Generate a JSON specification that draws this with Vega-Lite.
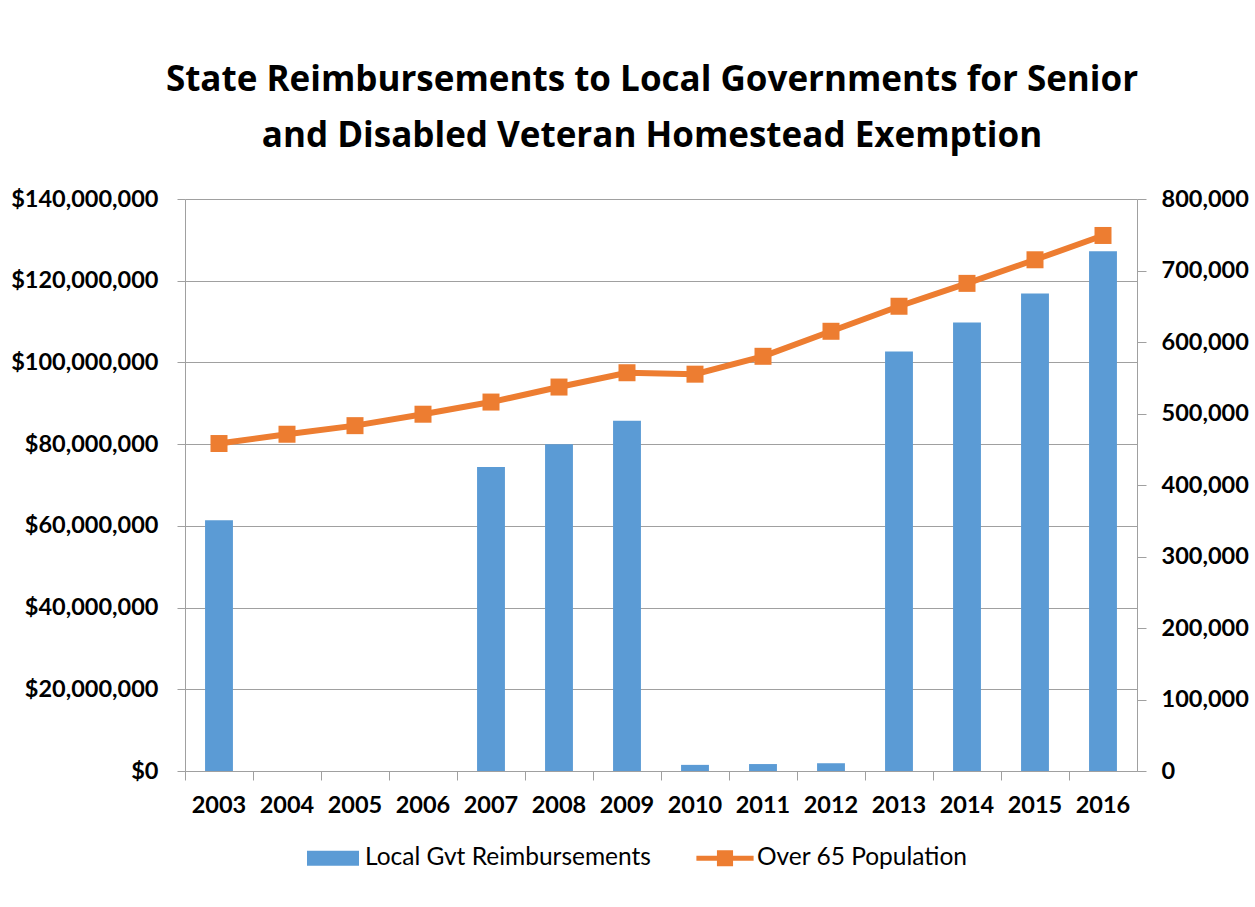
{
  "$schema": "https://vega.github.io/schema/vega-lite/v6.json",
  "width": 952,
  "height": 572,
  "autosize": {"type": "none"},
  "padding": {"left": 185, "top": 199, "right": 118, "bottom": 136},
  "background": "white",
  "config": {
    "font": "Lato",
    "view": {"stroke": null},
    "legend": {
      "orient": "none",
      "legendX": 122,
      "legendY": 633,
      "direction": "horizontal",
      "title": null,
      "symbolSize": 2704,
      "labelFontSize": 24.5,
      "labelFont": "Lato",
      "labelColor": "black",
      "labelOffset": 6,
      "labelLimit": 500,
      "columnPadding": 45
    }
  },
  "title": {
    "text": ["State Reimbursements to Local Governments for Senior", "and Disabled Veteran Homestead Exemption"],
    "fontSize": 35,
    "fontWeight": "bold",
    "font": "Open Sans",
    "color": "black",
    "anchor": "middle",
    "frame": "group",
    "offset": 5,
    "baseline": "alphabetic",
    "lineHeight": 56,
    "dx": -9
  },
  "data": {
    "values": [
      {"year": "2003", "reimb": 61400000, "pop": 458000},
      {"year": "2004", "reimb": 0, "pop": 471000},
      {"year": "2005", "reimb": 0, "pop": 483000},
      {"year": "2006", "reimb": 0, "pop": 499000},
      {"year": "2007", "reimb": 74400000, "pop": 516000},
      {"year": "2008", "reimb": 80000000, "pop": 537000},
      {"year": "2009", "reimb": 85700000, "pop": 557000},
      {"year": "2010", "reimb": 1500000, "pop": 555000},
      {"year": "2011", "reimb": 1700000, "pop": 580000},
      {"year": "2012", "reimb": 1900000, "pop": 615000},
      {"year": "2013", "reimb": 102700000, "pop": 650000},
      {"year": "2014", "reimb": 109800000, "pop": 682000},
      {"year": "2015", "reimb": 116900000, "pop": 715000},
      {"year": "2016", "reimb": 127200000, "pop": 749000}
    ]
  },
  "encoding": {
    "x": {
      "field": "year",
      "type": "ordinal",
      "scale": {"paddingInner": 0.59, "paddingOuter": 0.295},
      "axis": {
        "title": null,
        "labelAngle": 0,
        "labelFontSize": 23.5,
        "labelFontWeight": "bold",
        "labelColor": "black",
        "labelFont": "Lato",
        "domainColor": "#A0A0A0",
        "tickColor": "#A0A0A0",
        "tickSize": 9,
        "labelPadding": 13,
        "bandPosition": -0.7195,
        "grid": false
      }
    }
  },
  "layer": [
    {
      "mark": {"type": "bar", "color": "#5B9BD5"},
      "encoding": {
        "y": {
          "field": "reimb",
          "type": "quantitative",
          "scale": {"domain": [0, 140000000], "nice": false},
          "axis": {
            "orient": "left",
            "title": null,
            "values": [0, 20000000, 40000000, 60000000, 80000000, 100000000, 120000000, 140000000],
            "format": "$,.0f",
            "labelFontSize": 23.5,
            "labelFontWeight": "bold",
            "labelColor": "black",
            "labelFont": "Lato",
            "tickSize": 8,
            "tickColor": "#A0A0A0",
            "labelPadding": 19,
            "domainColor": "#A0A0A0",
            "grid": true,
            "gridColor": "#A0A0A0",
            "gridWidth": 1.2
          }
        },
        "color": {
          "datum": "Local Gvt Reimbursements",
          "scale": {"domain": ["Local Gvt Reimbursements", "Over 65 Population"], "range": ["#5B9BD5", "#ED7D31"]},
          "legend": {
            "encode": {
              "symbols": {
                "update": {
                  "shape": {"signal": "datum.value === 'Local Gvt Reimbursements' ? 'M-1,-0.29H1V0.29H-1Z' : 'M-1.1,-0.1H-0.31V-0.31H0.31V-0.1H1.1V0.1H0.31V0.31H-0.31V0.1H-1.1Z'"},
                  "fill": {"signal": "datum.value === 'Local Gvt Reimbursements' ? '#5B9BD5' : '#ED7D31'"},
                  "stroke": {"value": "transparent"},
                  "strokeWidth": {"value": 0},
                  "opacity": {"value": 1},
                  "fillOpacity": {"value": 1}
                }
              }
            }
          }
        }
      }
    },
    {
      "mark": {
        "type": "line",
        "color": "#ED7D31",
        "strokeWidth": 6,
        "point": {"shape": "square", "size": 289, "filled": true, "color": "#ED7D31", "opacity": 1}
      },
      "encoding": {
        "y": {
          "field": "pop",
          "type": "quantitative",
          "scale": {"domain": [0, 800000], "nice": false},
          "axis": {
            "orient": "right",
            "title": null,
            "values": [0, 100000, 200000, 300000, 400000, 500000, 600000, 700000, 800000],
            "format": ",.0f",
            "labelFontSize": 23.5,
            "labelFontWeight": "bold",
            "labelColor": "black",
            "labelFont": "Lato",
            "tickSize": 9,
            "tickColor": "#A0A0A0",
            "labelPadding": 15,
            "domainColor": "#A0A0A0",
            "grid": false
          }
        },
        "color": {"datum": "Over 65 Population"}
      }
    }
  ],
  "resolve": {"scale": {"y": "independent"}}
}
